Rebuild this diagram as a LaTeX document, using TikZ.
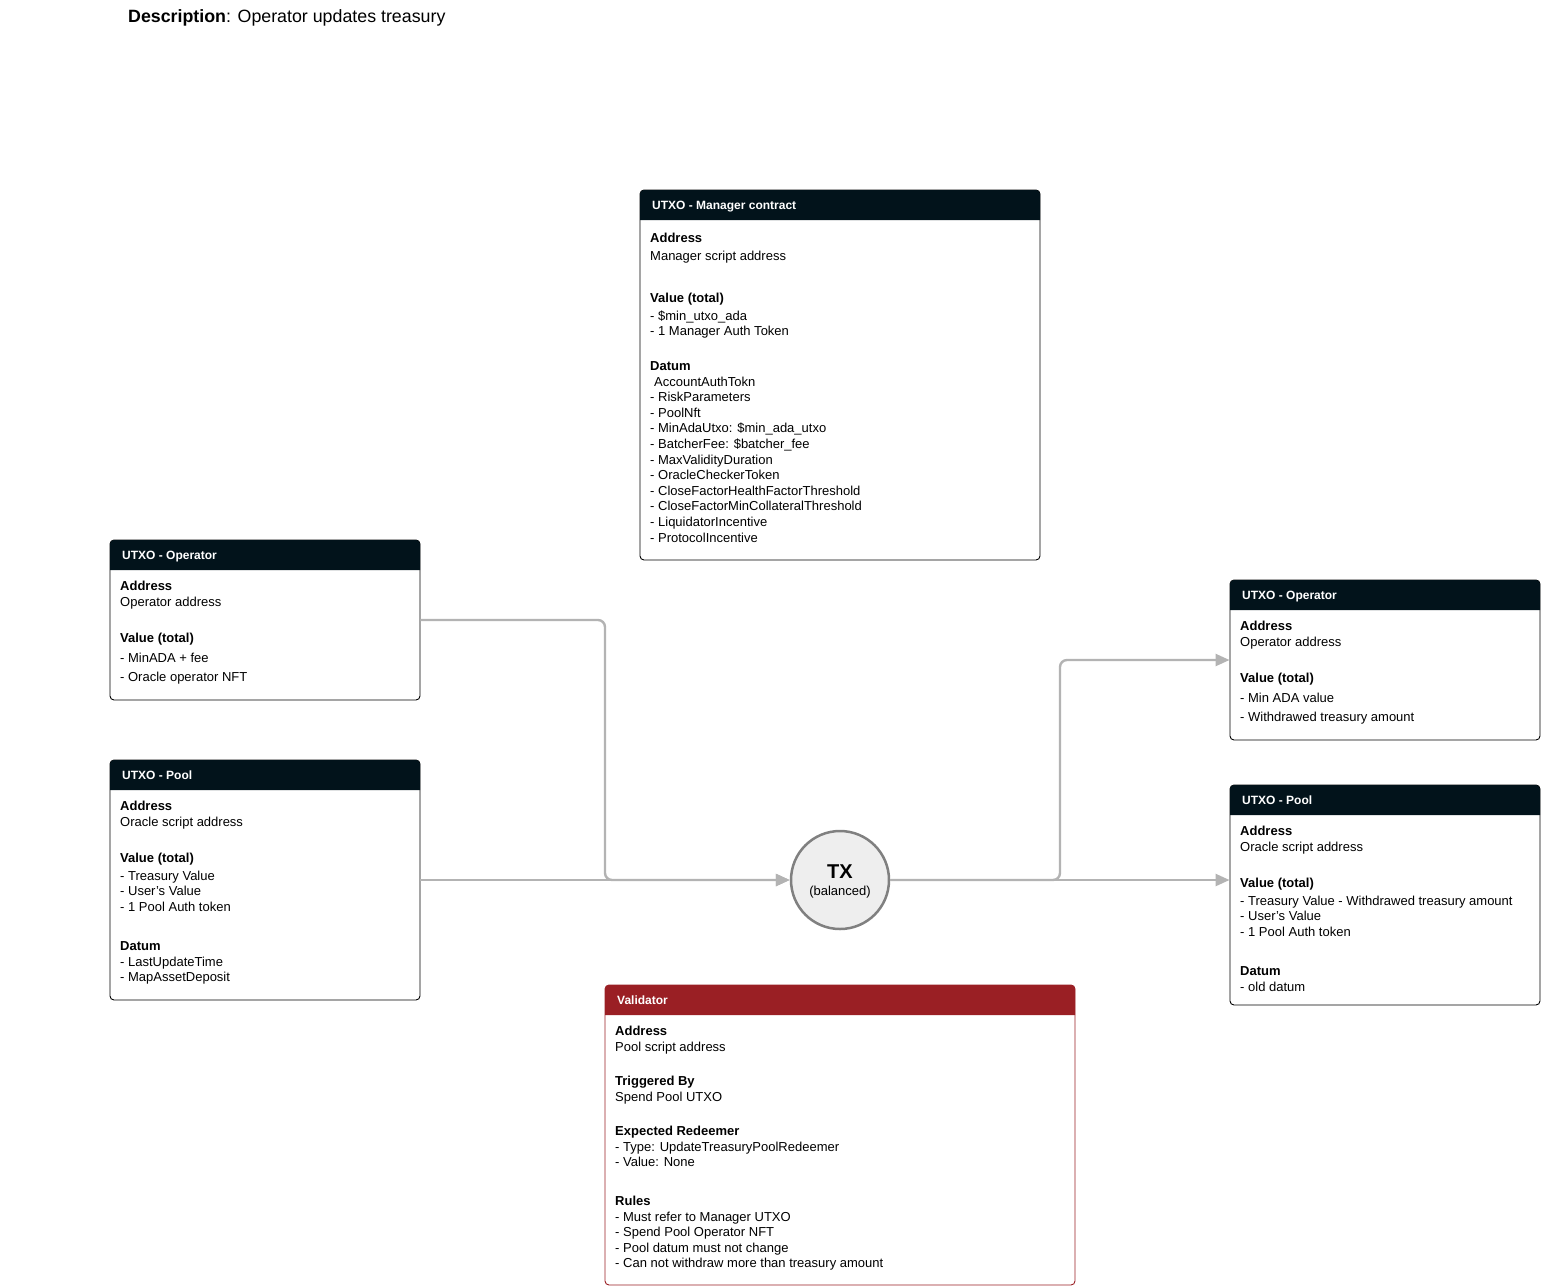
\documentclass[tikz,border=0pt]{standalone}
\usepackage{fontspec}
\setmainfont{Liberation Sans}
\usetikzlibrary{arrows.meta,calc}
\definecolor{hdr}{HTML}{02131B}
\definecolor{valred}{HTML}{9A1F24}
\definecolor{conn}{HTML}{B3B3B3}
\definecolor{txfill}{HTML}{EEEEEE}
\definecolor{txdraw}{HTML}{808080}
\newcommand\txl[4]{\node[txt] (#1) at (#2,#3+4.6) {#4};}
\newcommand\txb[4]{\node[txt,font=\fontsize{13}{15}\selectfont\bfseries] (#1) at (#2,#3+4.6) {#4};}
\newcommand\txh[4]{\node[hdrtxt] (#1) at (#2,#3+4.4) {#4};}
\begin{document}
\begin{tikzpicture}[x=1pt,y=-1pt,
  txt/.style={anchor=base west,inner sep=0pt,font=\fontsize{13}{15}\selectfont,text=black},
  hdrtxt/.style={anchor=base west,inner sep=0pt,font=\fontsize{12}{14}\selectfont\bfseries,text=white},
  box/.style={draw=black,line width=0.9pt,rounded corners=4pt,fill=white,inner sep=0pt},
  conline/.style={draw=conn,line width=2.4pt,rounded corners=7pt},
  arr/.style={-{Triangle[length=14pt,width=12pt,fill=conn]}}
]
\useasboundingbox (0,0) rectangle (1541,1286);
% title
\node[anchor=base west,inner sep=0pt,font=\fontsize{17.8}{20}\selectfont] (title) at (128,22.5) {\textbf{Description}: Operator updates treasury};

% boxes
\node[box,minimum width=400pt,minimum height=370pt] (mgr) at (840,375) {};
\node[box,minimum width=310pt,minimum height=160pt] (opin) at (265,620) {};
\node[box,minimum width=310pt,minimum height=240pt] (poolin) at (265,880) {};
\node[box,minimum width=310pt,minimum height=160pt] (opout) at (1385,660) {};
\node[box,minimum width=310pt,minimum height=220pt] (poolout) at (1385,895) {};
\node[box,draw=valred,minimum width=470pt,minimum height=300pt] (val) at (840,1135) {};

% headers
\fill[hdr] (640,220) [rounded corners=4pt] -- (640,190) -- (1040,190) [sharp corners] -- (1040,220) -- cycle;
\fill[hdr] (110,570) [rounded corners=4pt] -- (110,540) -- (420,540) [sharp corners] -- (420,570) -- cycle;
\fill[hdr] (110,790) [rounded corners=4pt] -- (110,760) -- (420,760) [sharp corners] -- (420,790) -- cycle;
\fill[hdr] (1230,610) [rounded corners=4pt] -- (1230,580) -- (1540,580) [sharp corners] -- (1540,610) -- cycle;
\fill[hdr] (1230,815) [rounded corners=4pt] -- (1230,785) -- (1540,785) [sharp corners] -- (1540,815) -- cycle;
\fill[valred] (605,1015) [rounded corners=4pt] -- (605,985) -- (1075,985) [sharp corners] -- (1075,1015) -- cycle;

% TX
\node[circle,draw=txdraw,fill=txfill,line width=2.5pt,minimum size=98pt,inner sep=0pt] (tx) at (840,880) {};
\node[inner sep=0pt,font=\fontsize{20}{22}\selectfont\bfseries] (txl) at (840,872) {TX};
\node[inner sep=0pt,font=\fontsize{13}{15}\selectfont] (txb) at (840,892) {(balanced)};

% connectors
\draw[conline,arr] (opin.east) -- (605,620) -- (605,880) -- (tx.west);
\draw[conline,arr] (poolin.east |- tx.west) -- (tx.west);
\draw[conline,arr] (tx.east) -- (1060,880) -- (1060,660) -- (opout.west);
\draw[conline,arr] (tx.east) -- (poolout.west |- tx.east);

% Manager text
\txh{mh}{652}{205}{UTXO - Manager contract}
\txb{m1}{650}{238}{Address}
\txl{m2}{650}{256}{Manager script address}
\txb{m3}{650}{298}{Value (total)}
\txl{m4}{650}{316}{- \$min\_utxo\_ada}
\txl{m5}{650}{331}{- 1 Manager Auth Token}
\txb{m6}{650}{366}{Datum}
\txl{m7}{654}{382}{AccountAuthTokn}
\txl{m8}{650}{397}{- RiskParameters}
\txl{m9}{650}{413}{- PoolNft}
\txl{m10}{650}{428}{- MinAdaUtxo: \$min\_ada\_utxo}
\txl{m11}{650}{444}{- BatcherFee: \$batcher\_fee}
\txl{m12}{650}{460}{- MaxValidityDuration}
\txl{m13}{650}{475}{- OracleCheckerToken}
\txl{m14}{650}{491}{- CloseFactorHealthFactorThreshold}
\txl{m15}{650}{506}{- CloseFactorMinCollateralThreshold}
\txl{m16}{650}{522}{- LiquidatorIncentive}
\txl{m17}{650}{538}{- ProtocolIncentive}

% Operator in
\txh{oh}{122}{555}{UTXO - Operator}
\txb{o1}{120}{586}{Address}
\txl{o2}{120}{602}{Operator address}
\txb{o3}{120}{638}{Value (total)}
\txl{o4}{120}{658}{- MinADA + fee}
\txl{o5}{120}{677}{- Oracle operator NFT}

% Pool in
\txh{ph}{122}{775}{UTXO - Pool}
\txb{p1}{120}{806}{Address}
\txl{p2}{120}{822}{Oracle script address}
\txb{p3}{120}{858}{Value (total)}
\txl{p4}{120}{876}{- Treasury Value}
\txl{p5}{120}{891}{- User's Value}
\txl{p6}{120}{907}{- 1 Pool Auth token}
\txb{p7}{120}{946}{Datum}
\txl{p8}{120}{962}{- LastUpdateTime}
\txl{p9}{120}{977}{- MapAssetDeposit}

% Operator out
\txh{qh}{1242}{595}{UTXO - Operator}
\txb{q1}{1240}{626}{Address}
\txl{q2}{1240}{642}{Operator address}
\txb{q3}{1240}{678}{Value (total)}
\txl{q4}{1240}{698}{- Min ADA value}
\txl{q5}{1240}{717}{- Withdrawed treasury amount}

% Pool out
\txh{rh}{1242}{800}{UTXO - Pool}
\txb{r1}{1240}{831}{Address}
\txl{r2}{1240}{847}{Oracle script address}
\txb{r3}{1240}{883}{Value (total)}
\txl{r4}{1240}{901}{- Treasury Value - Withdrawed treasury amount}
\txl{r5}{1240}{916}{- User's Value}
\txl{r6}{1240}{932}{- 1 Pool Auth token}
\txb{r7}{1240}{971}{Datum}
\txl{r8}{1240}{987}{- old datum}

% Validator
\txh{vh}{617}{1000}{Validator}
\txb{v1}{615}{1031}{Address}
\txl{v2}{615}{1047}{Pool script address}
\txb{v3}{615}{1081}{Triggered By}
\txl{v4}{615}{1097}{Spend Pool UTXO}
\txb{v5}{615}{1131}{Expected Redeemer}
\txl{v6}{615}{1147}{- Type: UpdateTreasuryPoolRedeemer}
\txl{v7}{615}{1162}{- Value: None}
\txb{v8}{615}{1201}{Rules}
\txl{v9}{615}{1217}{- Must refer to Manager UTXO}
\txl{v10}{615}{1232}{- Spend Pool Operator NFT}
\txl{v11}{615}{1248}{- Pool datum must not change}
\txl{v12}{615}{1263}{- Can not withdraw more than treasury amount}
\end{tikzpicture}
\end{document}
